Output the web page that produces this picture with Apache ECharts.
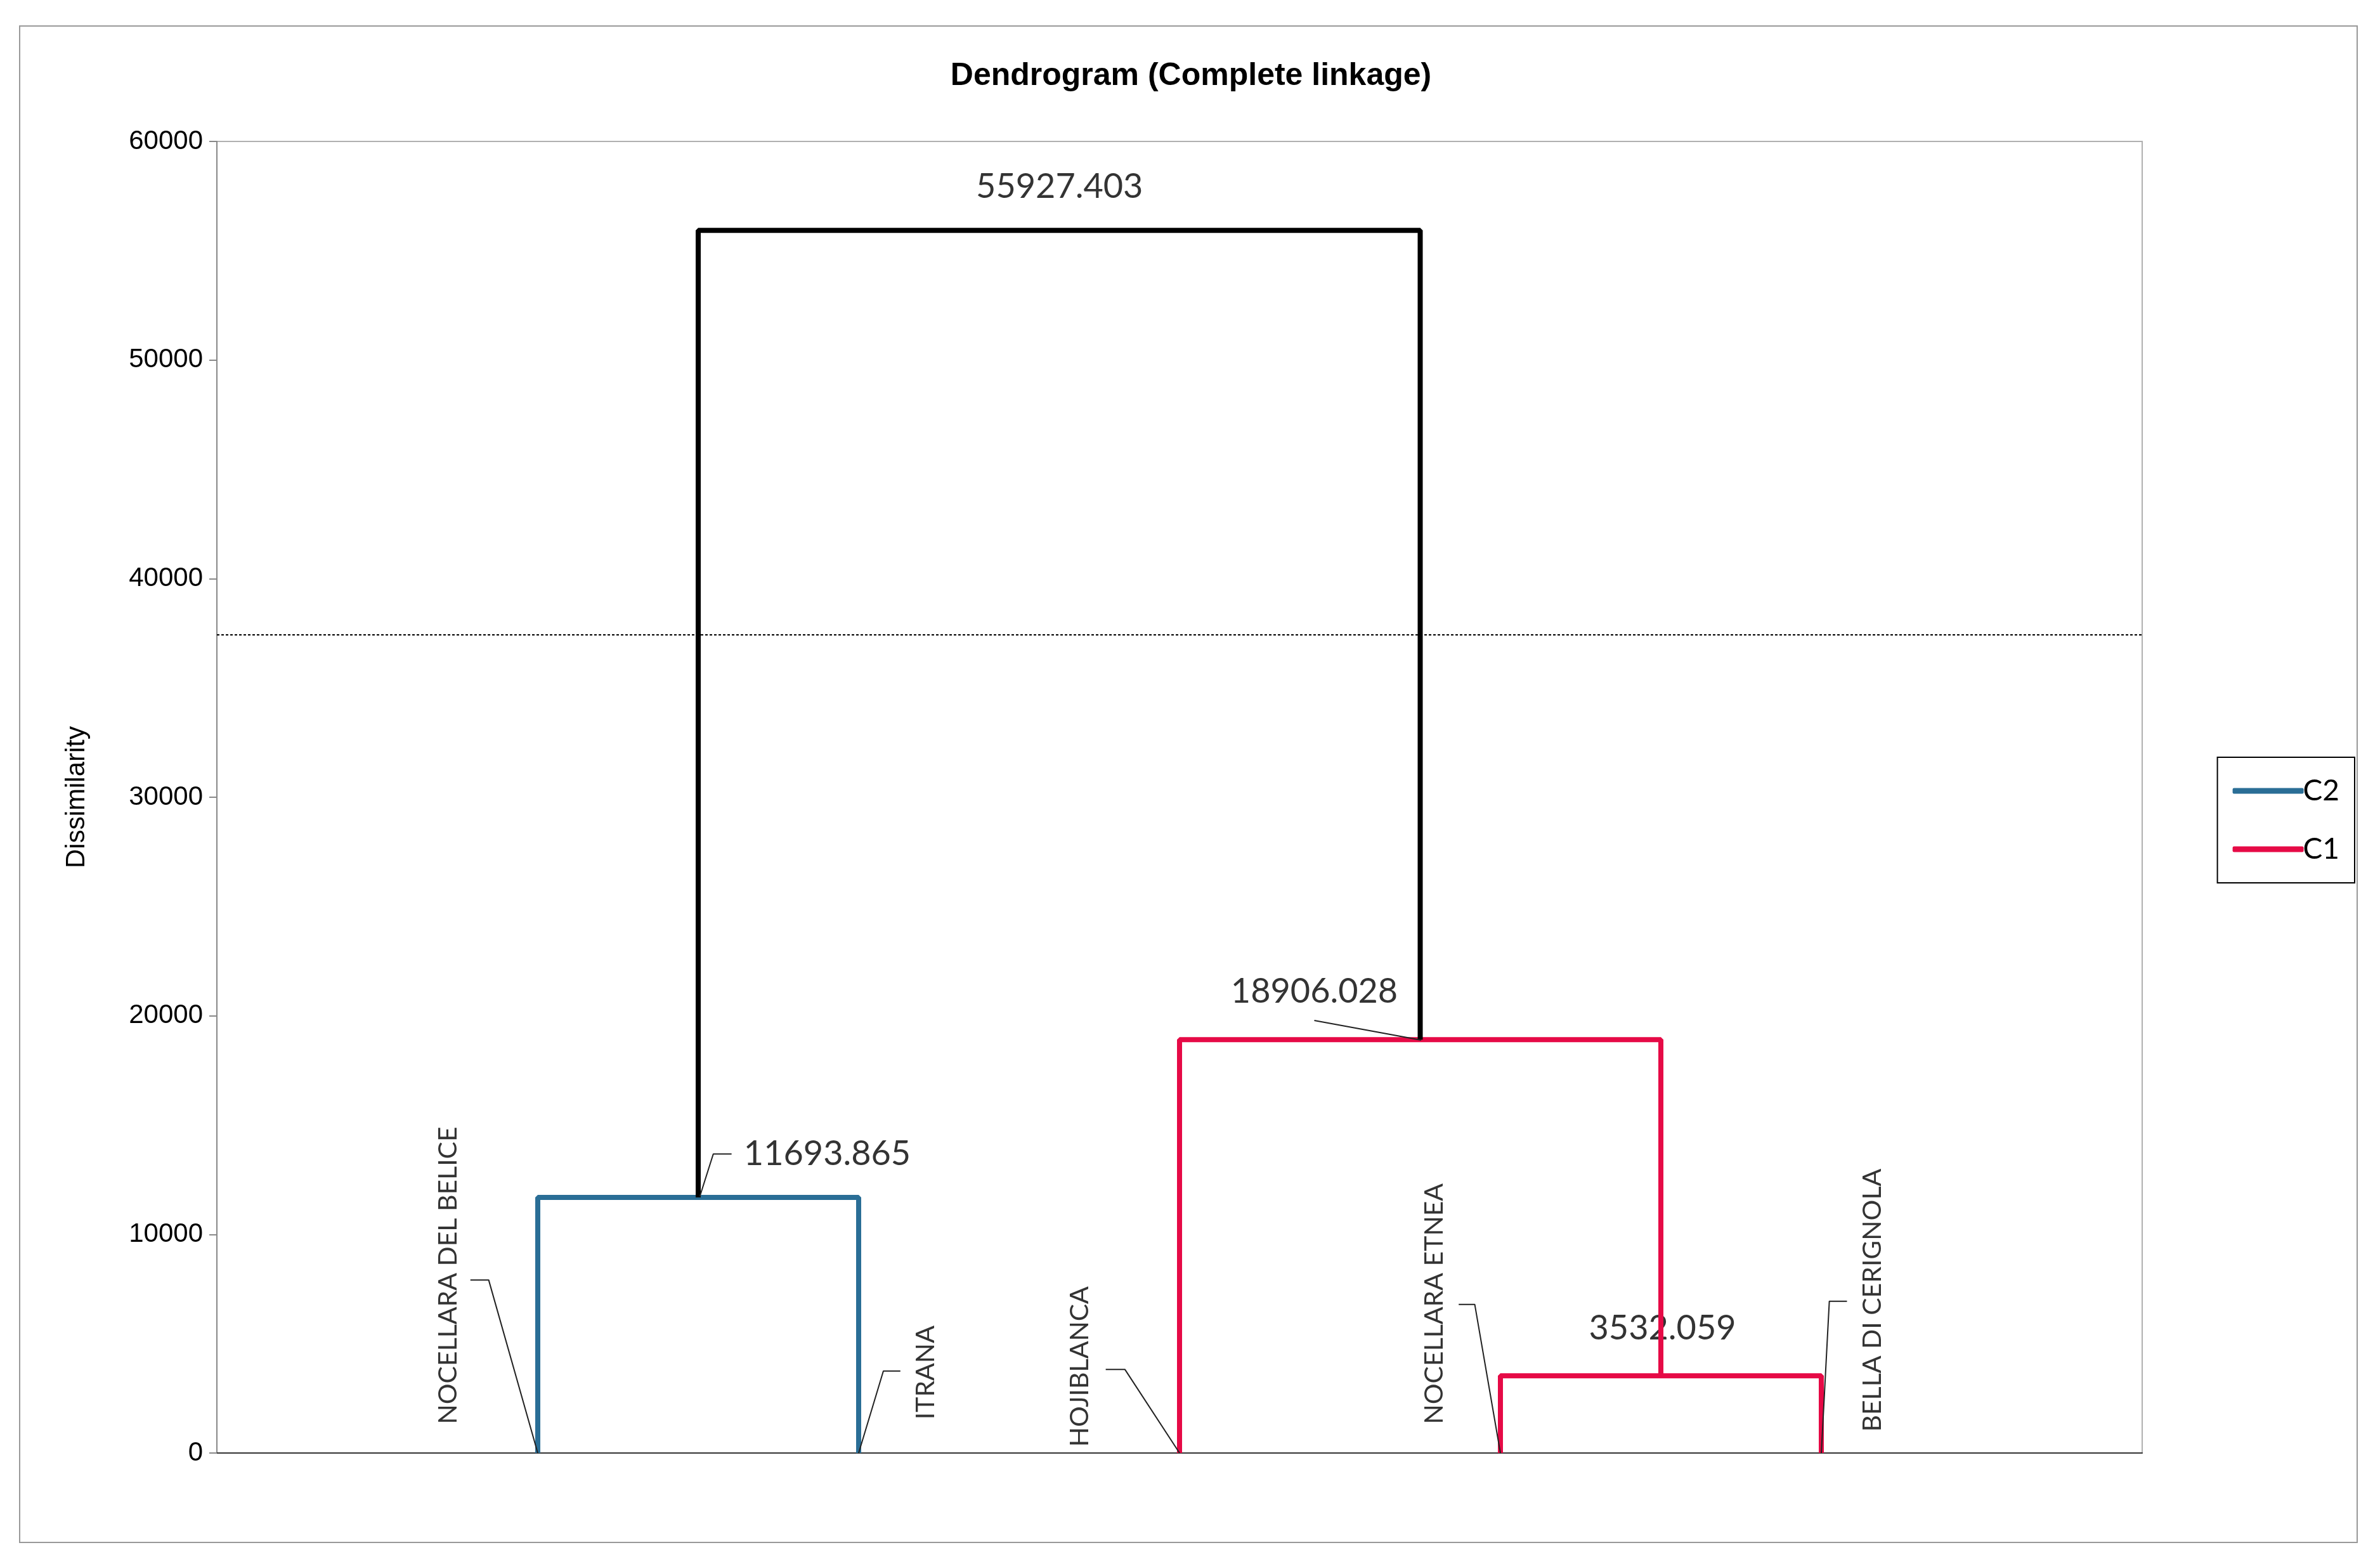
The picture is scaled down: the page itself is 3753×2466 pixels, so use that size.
<!DOCTYPE html>
<html>
<head>
<meta charset="utf-8">
<script src="https://cdn.jsdelivr.net/npm/echarts@6/dist/echarts.min.js"></script>
<style>
  html, body { margin: 0; padding: 0; background: #fff; }
  #chart { width: 3753px; height: 2466px; }
</style>
</head>
<body>
<div id="chart"></div>
<script>
// leaves, in dendrogram order (x position = index + 1)
const leafNames = ['NOCELLARA DEL BELICE', 'ITRANA', 'HOJIBLANCA', 'NOCELLARA ETNEA', 'BELLA DI CERIGNOLA'];

// merges: left child [x, y], right child [x, y], merge height, cluster
const mergeLeft = [[1, 0], [4, 0], [3, 0], [1.5, 11693.865]];
const mergeRight = [[2, 0], [5, 0], [4.5, 3532.059], [3.75, 18906.028]];
const mergeHeight = [11693.865, 3532.059, 18906.028, 55927.403];
const mergeCluster = ['C2', 'C1', 'C1', 'all'];

// leaf label leader lines and text anchors (data units)
const leafLeaders = [
    [[1, 0], [0.847, 7917], [0.79, 7917]],
    [[2, 0], [2.077, 3750], [2.13, 3750]],
    [[3, 0], [2.83, 3820], [2.77, 3820]],
    [[4, 0], [3.92, 6800], [3.87, 6800]],
    [[5, 0], [5.025, 6944], [5.08, 6944]]
];
const leafTextAt = [[0.72, 1320], [2.21, 1530], [2.69, 280], [3.795, 1320], [5.16, 970]];

// node height labels
const nodeText = ['11693.865', '3532.059', '18906.028', '55927.403'];
const nodeTextAt = [[1.642, 13680], [4.505, 5694], [3.42, 21110], [2.626, 57910]];
const nodeAlign = ['left', 'center', 'center', 'center'];
const nodeLeaders = [
    [[1.505, 11735], [1.547, 13680], [1.604, 13680]],
    null,
    [[3.753, 18890], [3.42, 19790]],
    null
];

const cutLevel = 37430;
const clusterColors = { C2: '#2a6e96', C1: '#e60a46', all: '#000000' };
const FONT = 'Lato, "Open Sans", sans-serif';

const chart = echarts.init(document.getElementById('chart'));

const series = [];
mergeHeight.forEach((h, i) => {
    const l = mergeLeft[i], r = mergeRight[i];
    const c = mergeCluster[i];
    series.push({
        name: c === 'all' ? 'root' : c,
        type: 'line',
        showSymbol: false,
        symbol: 'none',
        animation: false,
        z: 3,
        lineStyle: { color: clusterColors[c], width: 8 },
        itemStyle: { color: clusterColors[c] },
        data: [l, [l[0], h], [r[0], h], r]
    });
});

// leader lines
leafLeaders.concat(nodeLeaders.filter(Boolean)).forEach(pts => {
    series.push({
        type: 'line', showSymbol: false, symbol: 'none', animation: false, silent: true,
        lineStyle: { color: '#222', width: 2 },
        data: pts
    });
});

// leaf labels
series.push({
    type: 'scatter', symbolSize: 0, animation: false, silent: true,
    data: leafTextAt.map((p, i) => ({ value: p, name: leafNames[i] })),
    label: {
        show: true, position: 'inside', rotate: 90, align: 'left', verticalAlign: 'middle',
        formatter: p => p.name, fontFamily: FONT, fontSize: 41, color: '#000'
    }
});

// node labels
series.push({
    type: 'scatter', symbolSize: 0, animation: false, silent: true,
    data: nodeTextAt.map((p, i) => ({
        value: p, name: nodeText[i],
        label: { align: nodeAlign[i] }
    })),
    label: {
        show: true, position: 'inside', verticalAlign: 'middle',
        formatter: p => p.name, fontFamily: FONT, fontSize: 54, color: '#000'
    }
});

// cut line
series.push({
    type: 'line', data: [], animation: false,
    markLine: {
        silent: true, symbol: 'none', label: { show: false },
        lineStyle: { color: '#000', type: [4, 3], width: 2 },
        data: [{ yAxis: cutLevel }]
    }
});

chart.setOption({
    backgroundColor: '#fff',
    animation: false,
    title: {
        text: 'Dendrogram (Complete linkage)',
        left: 1873, top: 90, textAlign: 'center',
        textStyle: { fontFamily: 'Liberation Sans, Arial, sans-serif', fontWeight: 'bold', fontSize: 50, color: '#000' }
    },
    graphic: [{
        type: 'rect', shape: { x: 31, y: 41, width: 3686, height: 2391 },
        style: { fill: 'none', stroke: '#999', lineWidth: 2 }, silent: true
    }],
    legend: {
        data: ['C2', 'C1'],
        orient: 'vertical',
        right: 40, top: 1194,
        padding: [30, 24, 30, 24],
        itemGap: 46,
        icon: 'roundRect',
        itemWidth: 112, itemHeight: 9,
        borderColor: '#000', borderWidth: 2,
        textStyle: { fontFamily: FONT, fontSize: 46, color: '#000', padding: [0, 0, 0, -6] }
    },
    grid: {
        left: 342, right: 375, top: 223, bottom: 175,
        show: true, borderColor: '#b0b0b0', borderWidth: 2
    },
    xAxis: {
        type: 'value', min: 0, max: 6,
        axisLine: { show: true, lineStyle: { color: '#333', width: 2 } },
        axisTick: { show: false }, axisLabel: { show: false }, splitLine: { show: false }
    },
    yAxis: {
        type: 'value', min: 0, max: 60000, interval: 10000,
        name: 'Dissimilarity', nameLocation: 'middle', nameGap: 200, nameRotate: 90,
        nameTextStyle: { fontFamily: 'Liberation Sans, Arial, sans-serif', fontSize: 42, color: '#000' },
        axisLine: { show: true, lineStyle: { color: '#888', width: 2 } },
        axisTick: { show: true, inside: false, length: 12, lineStyle: { color: '#888', width: 2 } },
        axisLabel: {
            fontFamily: 'Liberation Sans, Arial, sans-serif', fontSize: 42, color: '#000', margin: 22,
            formatter: v => String(v)
        },
        splitLine: { show: false }
    },
    series
});
</script>
</body>
</html>
